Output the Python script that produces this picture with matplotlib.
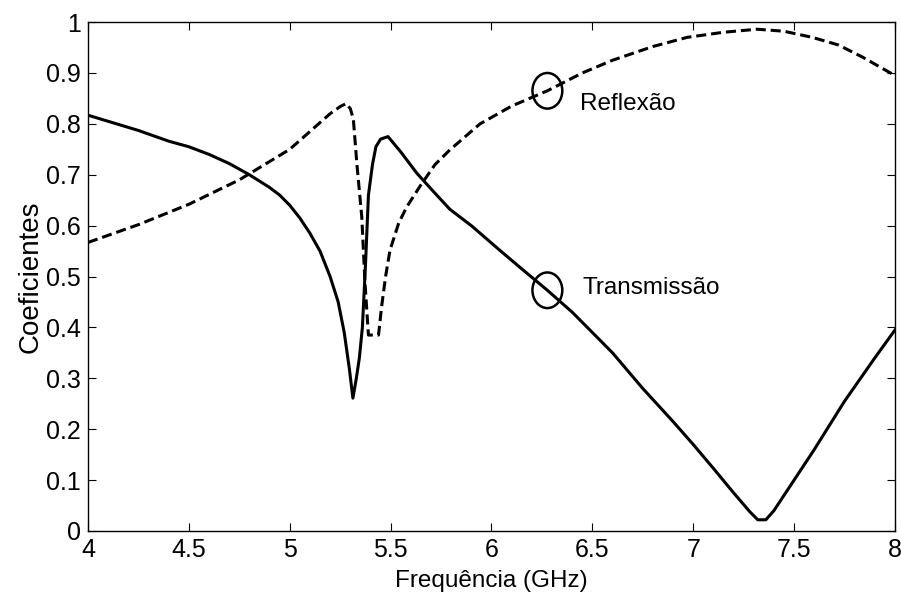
import numpy as np
import matplotlib
matplotlib.use("Agg")
import matplotlib.pyplot as plt
from matplotlib.patches import Ellipse

plt.rcParams['font.family'] = ['Liberation Sans', 'DejaVu Sans']

# Transmissao (linha continua)
freq_t = [4.0, 4.1, 4.25, 4.4, 4.5, 4.6, 4.7, 4.8, 4.9, 4.95, 5.0, 5.05, 5.1, 5.15, 5.2,
          5.24, 5.27, 5.295, 5.313, 5.33, 5.345, 5.36, 5.375, 5.39, 5.41, 5.427, 5.45,
          5.487, 5.55, 5.63, 5.71, 5.794, 5.9, 6.04, 6.15, 6.277, 6.4, 6.5, 6.6, 6.75,
          6.9, 7.0, 7.1, 7.2, 7.28, 7.32, 7.36, 7.4, 7.45, 7.5, 7.6, 7.75, 7.9, 8.0]
transm = [0.817, 0.805, 0.787, 0.766, 0.755, 0.74, 0.722, 0.70, 0.675, 0.66, 0.64, 0.615,
          0.585, 0.55, 0.5, 0.45, 0.39, 0.32, 0.261, 0.3, 0.34, 0.40, 0.52, 0.66, 0.72,
          0.755, 0.77, 0.775, 0.745, 0.703, 0.668, 0.632, 0.60, 0.552, 0.515, 0.473,
          0.43, 0.39, 0.35, 0.28, 0.215, 0.17, 0.123, 0.075, 0.038, 0.022, 0.022, 0.04,
          0.07, 0.1, 0.16, 0.255, 0.34, 0.395]

# Reflexao (linha tracejada)
freq_r = [4.0, 4.25, 4.5, 4.75, 5.0, 5.1, 5.2, 5.25, 5.28, 5.3, 5.315, 5.333, 5.357, 5.373,
          5.39, 5.44, 5.455, 5.475, 5.497, 5.54, 5.58, 5.65, 5.72, 5.794, 5.943, 6.1,
          6.277, 6.45, 6.6, 6.8, 6.97, 7.15, 7.316, 7.45, 7.59, 7.72, 7.84, 8.0]
reflex = [0.567, 0.602, 0.642, 0.69, 0.75, 0.785, 0.82, 0.834, 0.84, 0.83, 0.81, 0.72,
          0.617, 0.487, 0.385, 0.385, 0.44, 0.5, 0.552, 0.605, 0.637, 0.68, 0.72, 0.749,
          0.80, 0.835, 0.865, 0.9, 0.925, 0.952, 0.97, 0.98, 0.986, 0.982, 0.97, 0.955,
          0.931, 0.895]

xticks = [4, 4.5, 5, 5.5, 6, 6.5, 7, 7.5, 8]
xtick_labels = ['4', '4.5', '5', '5.5', '6', '6.5', '7', '7.5', '8']
yticks = [0, 0.1, 0.2, 0.3, 0.4, 0.5, 0.6, 0.7, 0.8, 0.9, 1]
ytick_labels = ['0', '0.1', '0.2', '0.3', '0.4', '0.5', '0.6', '0.7', '0.8', '0.9', '1']

fig = plt.figure(figsize=(9.01, 5.97), dpi=100)
ax = fig.add_axes([0.0977, 0.1106, 0.8956, 0.8524])

ax.plot(freq_t, transm, color='black', lw=2.2)
ax.plot(freq_r, reflex, color='black', lw=2.2, dashes=(3.3, 1.6))

# marcadores circulares das curvas
for cx, cy in [(6.277, 0.865), (6.277, 0.473)]:
    ax.add_patch(Ellipse((cx, cy), 0.148, 0.07, fill=False, ec='black', lw=1.8))
ax.text(6.44, 0.84, 'Reflexão', fontsize=17.5, va='center', ha='left')
ax.text(6.45, 0.477, 'Transmissão', fontsize=17.5, va='center', ha='left')

ax.set_xlim(4, 8)
ax.set_ylim(0, 1)
ax.set_xticks(xticks)
ax.set_xticklabels(xtick_labels)
ax.set_yticks(yticks)
ax.set_yticklabels(ytick_labels)
ax.tick_params(direction='in', length=6, width=0.8, top=True, right=True,
               labelsize=18, pad=5)
for s in ax.spines.values():
    s.set_linewidth(1.0)
ax.set_xlabel('Frequência (GHz)', fontsize=17.5, labelpad=6)
ax.set_ylabel('Coeficientes', fontsize=20, labelpad=2)

fig.savefig('out.png', dpi=100)
